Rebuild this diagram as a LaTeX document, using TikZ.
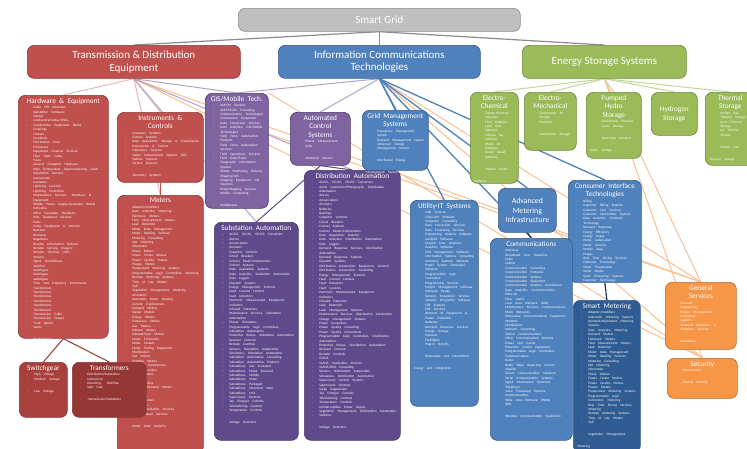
\documentclass[tikz,border=0pt]{standalone}
\usepackage{fontspec}
\setmainfont{Carlito}
\usetikzlibrary{backgrounds}
\definecolor{cRed}{HTML}{C0504D}
\definecolor{cRed2}{HTML}{A9403D}
\definecolor{cRed3}{HTML}{953735}
\definecolor{cRedD}{HTML}{8C3836}
\definecolor{cPur}{HTML}{8064A2}
\definecolor{cPur2}{HTML}{5F4B8B}
\definecolor{cPurD}{HTML}{4B3A6E}
\definecolor{cBlu}{HTML}{4F81BD}
\definecolor{cBlu2}{HTML}{2F5C92}
\definecolor{cBluD}{HTML}{385D8A}
\definecolor{cGrn}{HTML}{9BBB59}
\definecolor{cGrnD}{HTML}{71893F}
\definecolor{cOrg}{HTML}{F79646}
\definecolor{cOrgD}{HTML}{B66D31}
\definecolor{cGry}{HTML}{BFBFBF}
\definecolor{cGryD}{HTML}{8C8C8C}
\definecolor{lPink}{HTML}{E6B9B8}
\definecolor{lLav}{HTML}{B3A2C7}
\definecolor{lPeach}{HTML}{FAC090}
\definecolor{lGrn}{HTML}{C3D69B}
\definecolor{lNavy}{HTML}{1F3864}
\newcommand{\ttl}{\fontsize{7.3}{8.6}\selectfont}
\newcommand{\its}{\fontsize{3.4}{4.4}\selectfont\raggedright}
\newcommand{\itm}[1]{\par\hangindent=11pt\hangafter=1\noindent\makebox[11pt][l]{\hspace{4pt}-}#1}
\tikzset{
  bx/.style={draw, rounded corners=7pt, line width=0.7pt, anchor=north west, inner sep=0pt},
  txt/.style={anchor=north, inner sep=0pt, text=white, align=left},
  hdr/.style={font=\fontsize{11}{12.5}\selectfont, text=white, align=center},
  ttlnode/.style={font=\ttl, text=white, align=center},
  cR/.style={fill=cRed, draw=cRedD},
  cR2/.style={fill=cRed2, draw=cRedD},
  cR3/.style={fill=cRed3, draw=cRedD},
  cP/.style={fill=cPur, draw=cPurD},
  cP2/.style={fill=cPur2, draw=cPurD},
  cB/.style={fill=cBlu, draw=cBluD},
  cB2/.style={fill=cBlu2, draw=cBluD},
  cG/.style={fill=cGrn, draw=cGrnD},
  cO/.style={fill=cOrg, draw=cOrgD},
  ln/.style={line width=1pt},
  bln/.style={line width=1.3pt},
}
\newcommand{\LB}[8]{%
  \node[bx,#6,minimum width=#4,minimum height=#5] (#1) at (#2,#3) {};
  \pgfmathsetmacro{\lbw}{#4-8}
  \node[txt,text width=\lbw pt] (#1-t) at ([yshift=-3pt]#1.north) {{\centering\ttl #7\par}\vspace{1pt}\its #8};
}
\begin{document}
\begin{tikzpicture}[x=1pt,y=-1pt]
\useasboundingbox (0,0) rectangle (747,448);
% level 0 and 1
\node[bx,fill=cGry,draw=cGryD,minimum width=282,minimum height=23,hdr] (sg) at (238,8) {Smart Grid};
\node[bx,cR,minimum width=213,minimum height=33,hdr] (td) at (27,45) {Transmission \& Distribution\\Equipment};
\node[bx,cB,minimum width=202,minimum height=33,hdr] (ict) at (278,45) {Information Communications\\Technologies};
\node[bx,cG,minimum width=164,minimum height=33,hdr] (es) at (522,45) {Energy Storage Systems};

% red family
\LB{he}{18}{95}{90}{243}{cR}{Hardware \& Equipment}{%
\itm{Cable Life Extension}\itm{Substation Hardware}\itm{Clamps}\itm{Conductors/Cables/Wires}\itm{Construction Equipment Rental}\itm{Couplings}\itm{Cutouts}\itm{Deadends}\itm{Distribution Lines}\itm{Enclosures}\itm{Equipment Disposal Services}\itm{Fiber Optic Cable}\itm{Fuses}\itm{General Computer Hardware}\itm{High Temperature Superconducting Cable}\itm{Installation Services}\itm{Instruments}\itm{Insulators}\itm{Lightning Controls}\itm{Lightning Protection}\itm{Maintenance Services: Hardware \& Equipment}\itm{Mobile Power Supply/Generator Rental}\itm{Networks}\itm{Other Computer Hardware}\itm{Pole Treatment Services}\itm{Poles}\itm{Pump Equipment \& Services}\itm{Reactors}\itm{Reclosers}\itm{Regulators}\itm{Remote Information Systems}\itm{Remote Sensing Imagery}\itm{Remote Terminal Units}\itm{Sensors}\itm{Signal Conditioners}\itm{Switches}\itm{Switchgear}\itm{Switchgear}\itm{Switchgear}\itm{Time and Frequency Instruments}\itm{Transformers}\itm{Transformers}\itm{Transformers}\itm{Transformers}\itm{Transformers}\itm{Transformers}\itm{Transmission Cable}\itm{Transmission Towers}\itm{Truck Rental}\itm{Vaults}\itm{Workstations}}
\LB{ic}{117}{112}{86}{70}{cR}{Instruments \&\\Controls}{%
\itm{Computer Systems}\itm{Control Systems}\itm{Data Acquisition, Storage \& Transmission}\itm{Instruments \& Control}\itm{Laboratory Systems}\itm{Safety Instrumented Systems (SIS)}\itm{Sodium Systems}\itm{Surface Systems}\itm{Telemetry Systems}}
\LB{me}{117}{195}{86}{258}{cR}{Meters}{%
\itm{Adapters/modifiers}\itm{Data Analytics, Metering}\itm{Electronic Meters}\itm{Flow Measurement Meters}\itm{Leak Detection}\itm{Meter Data Management}\itm{Meter Reading Services}\itm{Metering Consulting}\itm{Net Metering}\itm{Ohmmeter}\itm{Phase Meters}\itm{Power Factor Meters}\itm{Power Quality Meters}\itm{Prepay Meters}\itm{Prepayment Metering Systems}\itm{Programmable Logic Controllers, Metering}\itm{Remote Metering Systems}\itm{Time of Use Meters}\itm{Volt}\itm{Vegetation Management, Metering}\itm{Ammeters}\itm{Automatic Meter Reading}\itm{Current Transformers}\itm{Demand Meters}\itm{Digital Meters}\itm{Energy Meters}\itm{Frequency Meters}\itm{Gas Meters}\itm{Interval Meters}\itm{Kilowatt-hour Meters}\itm{Meter Enclosures}\itm{Meter Sockets}\itm{Meter Testing Equipment}\itm{Multimeters}\itm{Net Meters}\itm{Portable Meters}\itm{Potential Transformers}\itm{Pulse Recorders}\itm{Smart Meters}\itm{Submeters}\itm{Test Switches}\itm{Thermal Demand Meters}\itm{Varmeters}\itm{Voltmeters}\itm{Water Meters}\itm{Wattmeters}\itm{Meter Installation Services}\itm{Meter Repair Services}\itm{Meter Data Analytics}}
\LB{sw}{19}{362}{48}{55}{cR2}{Switchgear}{%
\itm{High Voltage}\itm{Medium Voltage}\itm{Low Voltage}}
\LB{tr}{72}{362}{74}{55}{cR3}{Transformers}{%
\itm{Distribution/Substation}\itm{Instrument}\itm{Mounting: Pad/Pole}\itm{Split Core}\itm{Transmission/Substation}}

% purple family
\LB{gis}{205}{93}{63}{115}{cP}{GIS/Mobile Tech.}{%
\itm{AM/FM Systems}\itm{AM/FM/GIS Consulting}\itm{Communication Technologies}\itm{Construction Equipment}\itm{Data Conversion Services}\itm{Data Analytics, GIS/Mobile Technologies}\itm{Field Force Automation Products}\itm{Field Force Automation Services}\itm{Field Operations Services}\itm{Field Data/Tracks}\itm{Geographic Information Systems}\itm{Global Positioning Systems}\itm{Mapping/GIS}\itm{Mapping Equipment and Solutions}\itm{Maps/Mapping Services}\itm{Mobile Computing}\itm{Multiplexers}}
\LB{sa}{214}{222}{84}{218}{cP2}{Substation Automation}{%
\itm{AC/DC, DC/AC, DC/DC Converters}\itm{Alarms}\itm{Annunciators}\itm{Arresters}\itm{Capacitor Controls}\itm{Circuit Breakers}\itm{Control Panels/Components}\itm{Control Systems}\itm{Data Acquisition Systems}\itm{Data Analytics, Substation Automation}\itm{Data Loggers}\itm{Dispatch Systems}\itm{Energy Management Systems}\itm{Fault Current Limiters}\itm{Fault Detectors}\itm{Harmonic Measurement Equipment}\itm{Indicators}\itm{Infrared Detectors}\itm{Maintenance Services, Substation Automation}\itm{Phasor Simulators}\itm{Programmable Logic Controllers, Substation Automation}\itm{Protective Relays, Substation Automation}\itm{Recloser Controls}\itm{Remote Controls}\itm{Sensors, Substation Automation}\itm{Simulators, Substation Automation}\itm{Substation Automation Consulting}\itm{Substation Automation Products}\itm{Substations, Gas Insulated}\itm{Substations, Metal Enclosed}\itm{Substations, Mobile}\itm{Substations, Other}\itm{Substations, Packaged}\itm{Substations, Structural Steel}\itm{Substations, Unit}\itm{Supervisory Controls}\itm{Tap Changer Controls}\itm{Telemetering Controls}\itm{Temperature Controls}\itm{Voltage Detectors}}
\LB{acs}{290}{112}{60}{53}{cP}{Automated\\Control\\Systems}{%
\itm{Phasor Measurement Units}\itm{Advanced Sensors}}
\LB{da}{304}{170}{96}{270}{cP2}{Distribution Automation}{%
\itm{AC/DC, DC/AC, DC/DC Converters}\itm{Aerial Inspection/Photography, Distribution Automation}\itm{Alarms}\itm{Annunciators}\itm{Arresters}\itm{Batteries}\itm{Bushings}\itm{Capacitor Controls}\itm{Circuit Breakers}\itm{Control Systems}\itm{Control Panels/Components}\itm{Data Acquisition Systems}\itm{Data Analytics, Distribution Automation}\itm{Data Loggers}\itm{Demand Response Services, Distribution Automation}\itm{Demand Response Systems}\itm{Dispatch Systems}\itm{Distribution Automation Equipment, General}\itm{Distribution Automation Consulting}\itm{Energy Management Systems}\itm{Fault Current Limiters}\itm{Fault Detectors}\itm{Fault Locators}\itm{Harmonic Measurement Equipment}\itm{Indicators}\itm{Infrared Detectors}\itm{Leak Detection}\itm{Load Management Systems}\itm{Maintenance Services, Distribution Automation}\itm{Outage Management Systems}\itm{Power Converters}\itm{Power Quality Consulting}\itm{Power Quality Instruments}\itm{Programmable Logic Controllers, Distribution Automation}\itm{Protective Relays, Distribution Automation}\itm{Recloser Controls}\itm{Remote Controls}\itm{SCADA}\itm{SCADA Installation Services}\itm{SCADA/EMS Consulting}\itm{Sensors, Distribution Automation}\itm{Simulators, Distribution Automation}\itm{Supervisory Control Systems}\itm{Supervisory Controls}\itm{Surge Suppression}\itm{Tap Changer Controls}\itm{Telemetering Controls}\itm{Temperature Controls}\itm{Uninterruptible Power Supply}\itm{Vegetation Management, Distribution Automation}\itm{Switches}\itm{Voltage Detectors}}

% blue family
\LB{gms}{362}{110}{66}{60}{cB}{Grid Management\\Systems}{%
\itm{Emergency Management System}\itm{Demand Management System}\itm{Advanced Outage Management System}\itm{Distributed Energy Management System}}
\LB{uit}{410}{200}{68}{206}{cB}{Utility-IT Systems}{%
\itm{CAD Services}\itm{CAD/CAM Software}\itm{Computer Consulting}\itm{Data Conversion Services}\itm{Data Processing Services}\itm{Engineering Analysis Software}\itm{Geofield Software}\itm{Graphic User Interface}\itm{Graphics Software}\itm{Grid Management Software}\itm{Information Systems Consulting}\itm{Inventory Systems Software}\itm{Power System Simulation Software}\itm{Programmable Logic Controllers}\itm{Programming Services}\itm{Project Management Software}\itm{Software Design}\itm{Systems Integration Services}\itm{Systems Integration Software}\itm{ERP Systems}\itm{ERP Services}\itm{Removal of Equipment \& Power Plantation}\itm{Batteries}\itm{Demand Response Services}\itm{Energy Storage}\itm{Inverters}\itm{Flashlights}\itm{Plug-in Hybrids}\itm{Renewable and Intermittent Energy and Integration}}
\node[bx,cB,minimum width=58,minimum height=44,ttlnode,font=\fontsize{7.8}{9.4}\selectfont] (ami) at (498,188) {Advanced\\Metering\\Infrastructure};
\LB{cit}{568}{180}{73}{102}{cB}{Consumer Interface\\Technologies}{%
\itm{Billing}\itm{Customer Billing Systems}\itm{Customer Care Services}\itm{Customer Information Systems}\itm{Data Analytics, Customer Technology}\itm{Demand Response}\itm{Energy Efficiency}\itm{Energy Usage}\itm{Home Automation}\itm{Home Security}\itm{Mobile Apps}\itm{Prepay}\itm{Real Time Pricing Services, Customer Technology}\itm{Smart Thermostats}\itm{Social Media}\itm{Voice Processing Systems, Customer Technology}\itm{Websites/Portals}}
\LB{com}{490}{238}{82}{202}{cB}{Communications}{%
\itm{Antennas}\itm{Broadband Over Powerline}\itm{Cable}\itm{Cellular}\itm{Communication Consulting}\itm{Communication Protocols}\itm{Communication Systems}\itm{Communication Equipment}\itm{Communication Systems Architecture}\itm{Data Analytics, Communications}\itm{Ethernet}\itm{Fiber Optics}\itm{Local Area Network (LAN)}\itm{Maintenance Services, Communications}\itm{Mesh Networks}\itm{Microwave Communications Equipment}\itm{Modems}\itm{Multiplexers}\itm{Network Consulting}\itm{Optical Communications}\itm{Other Communication Systems}\itm{Power Line Carrier}\itm{Powerline Carrier Equipment}\itm{Programmable Logic Controllers, Communications}\itm{Radio}\itm{Radio Wave Reporting Control Satellite}\itm{Secure Communication Solutions}\itm{Serial Communication Systems}\itm{Signal Interference Detectors}\itm{Telephone}\itm{Voice Processing Systems, Communications}\itm{Wide Area Network (WAN)}\itm{WiFi}\itm{Wireless Communication Equipment}}
\LB{sm}{573}{300}{67}{152}{cB2}{Smart Metering}{%
\itm{Adapters/modifiers}\itm{Automatic Metering Systems}\itm{Demand/Adjustment Metering Systems}\itm{Data Analytics, Metering}\itm{Demand Meters}\itm{Electronic Meters}\itm{Flow Measurement Meters}\itm{Leak Detection}\itm{Meter Data Management}\itm{Meter Reading Services}\itm{Metering Consulting}\itm{Net Metering}\itm{Ohmmeter}\itm{Phase Meters}\itm{Power Factor Meters}\itm{Power Quality Meters}\itm{Prepay Meters}\itm{Prepayment Metering Systems}\itm{Programmable Logic Controllers, Metering}\itm{Real Time Pricing Services, Metering}\itm{Remote Metering Systems}\itm{Time of Use Meters}\itm{Volt}\itm{Vegetation Management, Metering}}

% green family
\LB{ec}{470}{92}{48}{91}{cG}{Electro-\\Chemical}{%
\itm{Electro-chemical capacitor}\itm{Flow batteries}\itm{Lead Acid batteries}\itm{Lithium Ion batteries}\itm{Metal Air batteries}\itm{Nickel based batteries}\itm{Sodium based batteries}}
\LB{em}{524}{92}{52}{58}{cG}{Electro-\\Mechanical}{%
\itm{Compressed Air Storage}\itm{Flywheel}\itm{Electrostatic Storage}}
\LB{ph}{586}{92}{55}{66}{cG}{Pumped\\Hydro\\Storage}{%
\itm{Closed-loop Pumped Hydro Storage}\itm{Open-loop pumped hydro storage}}
\node[bx,cG,minimum width=46,minimum height=43,ttlnode] (hs) at (651,92) {Hydrogen\\Storage};
\LB{ts}{705}{92}{50}{73}{cG}{Thermal\\Storage}{%
\itm{Molten Salt Thermal Storage}\itm{Heat Thermal Storage}\itm{Ice Thermal Storage}\itm{Molten Salt Thermal Storage}}

% orange family
\LB{gs}{665}{282}{71}{67}{cO}{General\\Services}{%
\itm{Financial}\itm{Engineering}\itm{Project Management}\itm{Consulting}\itm{Logistics}\itm{Technical Assistance \& Computer Services}\itm{Installation}}
\LB{sec}{667}{358}{70}{40}{cO}{Security}{%
\itm{Cybersecurity}\itm{Physical Security}}

% connectors
\begin{scope}[on background layer]
\fill[white] (0,0) rectangle (747,448);
\draw[cGryD,line width=1.2pt] (sg.south) -- (td.north);
\draw[cGryD,line width=1.2pt] (sg.south) -- (ict.north);
\draw[cGryD,line width=1.2pt] (sg.south) -- (es.north);
% peach cross links
\foreach \a in {td,ict,es}{\foreach \b in {gs,sec}{\draw[lPeach,ln] (\a.south) -- (\b.north);}}
\draw[lPeach,ln] (ic.north east) -- (gs.north);
\draw[lPeach,ln] (gis.north east) -- (sec.north);
% T&D
\draw[lPink,ln] (td.south) -- (he.north);
\draw[lPink,ln] (td.south) -- (ic.north);
\draw[lPink,ln] (td.south) -- (me.north);
\draw[lLav,ln] (td.south) -- (gis.north);
\draw[lLav,ln] (td.south) -- (sa.north);
\draw[lLav,ln] (td.south) -- (da.north);
\draw[cRed3,ln] (he.south) -- (sw.north);
\draw[cRed3,ln] (he.south) -- (tr.north);
\draw[cRed,ln] (ic.south) -- (me.north);
% ICT
\draw[lLav,ln] (ict.south) -- (gis.north);
\draw[lLav,ln] (ict.south) -- (acs.north);
\draw[cPur2,ln] (acs.south) -- (sa.north);
\draw[cPur2,ln] (acs.south) -- (da.north);
\draw[cBlu,bln] (ict.south) -- (gms.north);
\draw[cBlu,bln] (ict.south) -- (uit.north);
\draw[cBlu,bln] (ict.south) -- (ami.north);
\draw[cBlu,bln] (ict.south) -- (cit.north);
\draw[cBlu,bln] (ict.south) -- (com.north);
\draw[lNavy,bln] (ami.south) -- (com.north);
\draw[lNavy,bln] (cit.south) -- (sm.north);
% storage
\foreach \b in {ec,em,ph,hs,ts}{\draw[lGrn,ln] (es.south) -- (\b.north);}
\end{scope}
\end{tikzpicture}
\end{document}
